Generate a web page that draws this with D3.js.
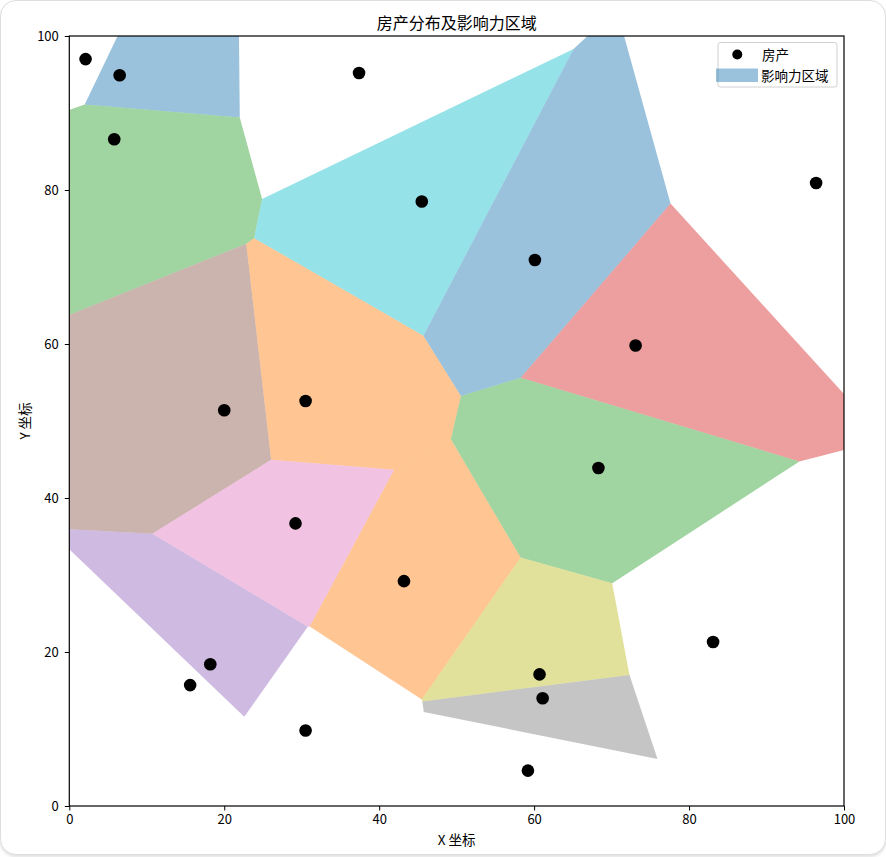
<!DOCTYPE html>
<html>
<head>
<meta charset="utf-8">
<script src="https://cdn.jsdelivr.net/npm/d3@7"></script>
<style>
    html, body { margin: 0; padding: 0; background: #fff; }
    #frame {
        position: absolute; left: 0; top: 0; width: 884px; height: 853px;
        border: 1px solid #dedede; border-radius: 16px;
        box-shadow: 0 2px 3px rgba(0, 0, 0, 0.12);
        overflow: hidden; background: #fff;
    }
    svg { position: absolute; left: 0; top: 0; }
    text { font-family: "Noto Sans CJK SC", "Noto Sans", sans-serif; fill: #000; }
</style>
</head>
<body>
<div id="frame"></div>
<svg id="chart" width="886" height="857"></svg>
<script>
// property locations
const propX = [2.1, 6.5, 5.8, 37.4, 45.5, 20.0, 30.5, 60.1, 73.1, 96.4,
               29.2, 43.2, 18.2, 15.6, 30.5, 68.3, 83.1, 60.7, 61.1, 59.2];
const propY = [97.0, 94.9, 86.6, 95.2, 78.5, 51.4, 52.6, 70.9, 59.8, 80.9,
               36.7, 29.2, 18.4, 15.7, 9.8, 43.9, 21.3, 17.1, 14.0, 4.6];

// tab10 colour index of each bounded region (null = open region, not filled)
const regionColor = [null, 0, 2, null, 9, 5, 1, 0, 3, null,
                     6, 1, 4, null, null, 2, null, 8, 7, null];

const tab10 = ['#1f77b4', '#ff7f0e', '#2ca02c', '#d62728', '#9467bd',
               '#8c564b', '#e377c2', '#7f7f7f', '#bcbd22', '#17becf'];

const xTicks = [0, 20, 40, 60, 80, 100];
const yTicks = [0, 20, 40, 60, 80, 100];

const regionAlpha = 0.45;

// layout
let margin = { top: 36, right: 42, bottom: 51, left: 69.3 },
    width = 886 - margin.left - margin.right,
    height = 857 - margin.top - margin.bottom;

let svg = d3.select("#chart");
let g = svg.append("g")
    .attr("transform", "translate(" + margin.left + "," + margin.top + ")");

let x = d3.scaleLinear().domain([0, 100]).range([0, width]);
let y = d3.scaleLinear().domain([0, 100]).range([height, 0]);

g.append("clipPath").attr("id", "plotClip")
    .append("rect").attr("width", width).attr("height", height);

// voronoi in data coordinates
let points = propX.map((v, i) => [v, propY[i]]);
let delaunay = d3.Delaunay.from(points);
let voronoi = delaunay.voronoi([-2000, -2000, 2100, 2100]);

let cells = [];
points.forEach((p, i) => {
    if (regionColor[i] === null) return;
    let poly = voronoi.cellPolygon(i);
    if (poly) cells.push({ poly: poly, color: tab10[regionColor[i]] });
});

g.append("g").attr("clip-path", "url(#plotClip)")
    .selectAll("path")
    .data(cells)
    .enter()
    .append("path")
    .attr("d", d => "M" + d.poly.map(p => x(p[0]) + "," + y(p[1])).join("L") + "Z")
    .attr("fill", d => d.color)
    .attr("fill-opacity", regionAlpha);

// points
g.append("g")
    .selectAll("circle")
    .data(points)
    .enter()
    .append("circle")
    .attr("cx", d => x(d[0]))
    .attr("cy", d => y(d[1]))
    .attr("r", 6.3)
    .attr("fill", "#000");

// axes
let xAxis = g.append("g")
    .attr("transform", "translate(0," + height + ")")
    .call(d3.axisBottom(x).tickValues(xTicks).tickSize(4.5).tickPadding(4));
let yAxis = g.append("g")
    .call(d3.axisLeft(y).tickValues(yTicks).tickSize(4.5).tickPadding(6));
[xAxis, yAxis].forEach(a => {
    a.select(".domain").remove();
    a.selectAll("text").style("font-size", "13px")
        .style("font-family", '"Noto Sans CJK SC", sans-serif');
    a.selectAll("line").attr("stroke", "#000");
});

// spines
g.append("rect")
    .attr("width", width).attr("height", height)
    .attr("fill", "none").attr("stroke", "#000").attr("stroke-width", 1.2);

// title and labels
svg.append("text")
    .attr("x", margin.left + width / 2).attr("y", 29)
    .attr("text-anchor", "middle")
    .style("font-size", "16px")
    .text("房产分布及影响力区域");

svg.append("text")
    .attr("x", margin.left + width / 2).attr("y", 845)
    .attr("text-anchor", "middle")
    .style("font-size", "13.5px")
    .text("X 坐标");

svg.append("text")
    .attr("transform", "translate(30," + (margin.top + height / 2) + ") rotate(-90)")
    .attr("text-anchor", "middle")
    .style("font-size", "13.5px")
    .text("Y 坐标");

// legend
let legend = svg.append("g");
legend.append("rect")
    .attr("x", 718).attr("y", 42.5).attr("width", 119).attr("height", 44.5)
    .attr("rx", 2.5)
    .attr("fill", "#fff").attr("fill-opacity", 0.8)
    .attr("stroke", "#d0d0d0").attr("stroke-width", 1);
legend.append("circle")
    .attr("cx", 737.3).attr("cy", 54.5).attr("r", 5).attr("fill", "#000");
legend.append("text")
    .attr("x", 762).attr("y", 59.5)
    .style("font-size", "13.5px")
    .text("房产");
legend.append("rect")
    .attr("x", 716).attr("y", 68.5).attr("width", 42).attr("height", 13.5)
    .attr("fill", tab10[0]).attr("fill-opacity", regionAlpha);
legend.append("text")
    .attr("x", 761).attr("y", 81)
    .style("font-size", "13.5px")
    .text("影响力区域");
</script>
</body>
</html>
